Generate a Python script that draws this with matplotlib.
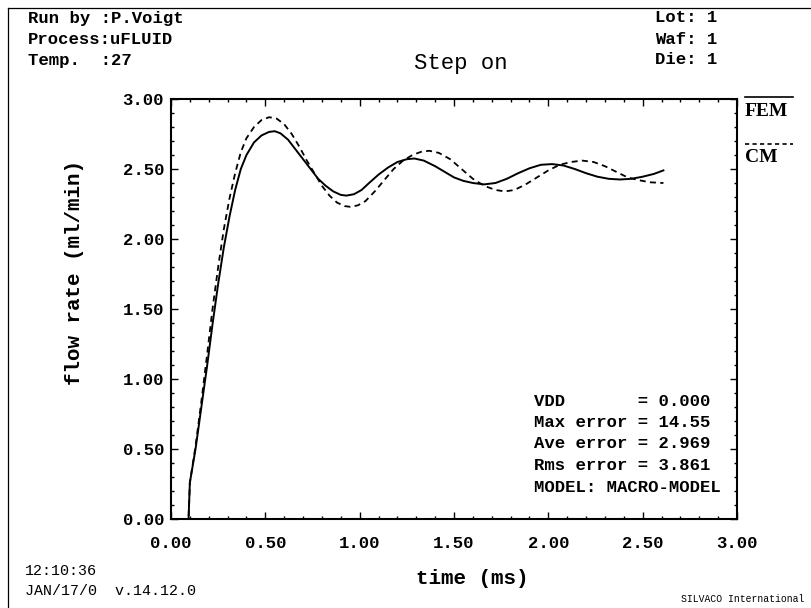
import numpy as np
import matplotlib.pyplot as plt
from matplotlib.ticker import MultipleLocator, FormatStrFormatter
from matplotlib.lines import Line2D

# Datos (tiempo en ms, caudal en ml/min)
t_fem = [0.0, 0.093, 0.10, 0.13, 0.16, 0.19, 0.22, 0.25, 0.28, 0.31, 0.34, 0.37,
         0.40, 0.44, 0.48, 0.52, 0.55, 0.58, 0.62, 0.66, 0.70, 0.74, 0.78, 0.82,
         0.86, 0.90, 0.93, 0.97, 1.01, 1.05, 1.10, 1.15, 1.20, 1.25, 1.29, 1.34,
         1.40, 1.45, 1.50, 1.55, 1.60, 1.66, 1.72, 1.78, 1.84, 1.90, 1.96, 2.02,
         2.08, 2.14, 2.20, 2.26, 2.32, 2.38, 2.44, 2.50, 2.56, 2.61]
q_fem = [0.0, 0.0, 0.26, 0.50, 0.79, 1.08, 1.39, 1.68, 1.94, 2.16, 2.35, 2.50,
         2.60, 2.69, 2.74, 2.765, 2.77, 2.755, 2.71, 2.64, 2.57, 2.50, 2.43, 2.38,
         2.34, 2.315, 2.31, 2.32, 2.35, 2.40, 2.46, 2.51, 2.55, 2.57, 2.575, 2.56,
         2.52, 2.48, 2.44, 2.415, 2.40, 2.39, 2.40, 2.43, 2.47, 2.505, 2.53, 2.535,
         2.525, 2.50, 2.47, 2.445, 2.43, 2.425, 2.43, 2.445, 2.465, 2.49]

t_cm = [0.0, 0.093, 0.10, 0.13, 0.16, 0.19, 0.22, 0.25, 0.28, 0.31, 0.34, 0.37,
        0.40, 0.44, 0.48, 0.52, 0.56, 0.60, 0.64, 0.68, 0.72, 0.76, 0.80, 0.84,
        0.88, 0.92, 0.95, 0.99, 1.03, 1.08, 1.13, 1.18, 1.23, 1.28, 1.33, 1.37,
        1.42, 1.48, 1.54, 1.60, 1.66, 1.72, 1.77, 1.82, 1.88, 1.94, 2.00, 2.06,
        2.12, 2.18, 2.24, 2.30, 2.36, 2.42, 2.48, 2.54, 2.61]
q_cm = [0.0, 0.0, 0.26, 0.52, 0.83, 1.16, 1.50, 1.80, 2.07, 2.29, 2.47, 2.62,
        2.72, 2.80, 2.85, 2.87, 2.86, 2.82, 2.75, 2.66, 2.56, 2.47, 2.38, 2.31,
        2.26, 2.235, 2.23, 2.24, 2.27, 2.34, 2.42, 2.50, 2.56, 2.60, 2.625, 2.63,
        2.615, 2.57, 2.50, 2.43, 2.38, 2.35, 2.34, 2.35, 2.39, 2.44, 2.49, 2.53,
        2.55, 2.56, 2.55, 2.52, 2.48, 2.44, 2.42, 2.405, 2.40]

header_left = ["Run by :P.Voigt", "Process:uFLUID", "Temp.  :27"]
header_right = ["Lot: 1", "Waf: 1", "Die: 1"]
stats = ["VDD       = 0.000", "Max error = 14.55", "Ave error = 2.969",
         "Rms error = 3.861", "MODEL: MACRO-MODEL"]

W, H = 811, 608
mono = 'Liberation Mono'

def fx(x):
    return x / W

def fy(y):
    return 1 - y / H

fig = plt.figure(figsize=(W / 100, H / 100), dpi=100)

# marco de la hoja (solo izquierda y arriba)
fig.add_artist(Line2D([fx(8), fx(8)], [0, fy(8)], color='k', lw=0.9))
fig.add_artist(Line2D([fx(8), 1], [fy(8), fy(8)], color='k', lw=0.9))

ax = fig.add_axes([fx(171), fy(519), fx(737) - fx(171), fy(99) - fy(519)])
ax.plot(t_fem, q_fem, color='k', lw=1.4)
ax.plot(t_cm, q_cm, color='k', lw=1.3, linestyle=(0, (3.3, 2.4)))

ax.set_xlim(0, 3)
ax.set_ylim(0, 3)
ax.xaxis.set_major_locator(MultipleLocator(0.5))
ax.xaxis.set_minor_locator(MultipleLocator(0.1))
ax.yaxis.set_major_locator(MultipleLocator(0.5))
ax.yaxis.set_minor_locator(MultipleLocator(0.1))
ax.xaxis.set_major_formatter(FormatStrFormatter('%.2f'))
ax.yaxis.set_major_formatter(FormatStrFormatter('%.2f'))
ax.tick_params(which='both', direction='in', top=True, right=True, width=1.0)
ax.tick_params(which='major', length=5)
ax.tick_params(which='minor', length=2.2)
ax.tick_params(axis='x', which='major', pad=12)
ax.tick_params(axis='y', which='major', pad=5)
for lab in ax.get_xticklabels() + ax.get_yticklabels():
    lab.set_fontfamily(mono)
    lab.set_fontweight('bold')
    lab.set_fontsize(12.4)
for sp in ax.spines.values():
    sp.set_linewidth(1.5)

# textos
for i, s in enumerate(header_left):
    fig.text(fx(28), fy(18 + 21 * i), s, family=mono, weight='bold',
             fontsize=12.4, va='center', ha='left')
for i, s in enumerate(header_right):
    fig.text(fx(655), fy(18 + 21 * i), s, family=mono, weight='bold',
             fontsize=12.4, va='center', ha='left')
fig.text(fx(461), fy(64), "Step on", family=mono, fontsize=16,
         va='center', ha='center')

fig.text(fx(472), fy(578), "time (ms)", family=mono, weight='bold',
         fontsize=15, va='center', ha='center')
fig.text(fx(75), fy(272), "flow rate (ml/min)", family=mono, weight='bold',
         fontsize=15, va='center', ha='center', rotation=90)

for i, s in enumerate(stats):
    fig.text(fx(534), fy(401 + 21.5 * i), s, family=mono, weight='bold',
             fontsize=12.4, va='center', ha='left')

fig.text(fx(25), fy(571), "12:10:36", family=mono, fontsize=10.8,
         va='center', ha='left')
fig.text(fx(25), fy(591), "JAN/17/0  v.14.12.0", family=mono, fontsize=10.8,
         va='center', ha='left')
fig.text(fx(804), fy(599), "SILVACO International", family=mono, fontsize=7,
         va='center', ha='right')

# leyenda a la derecha
fig.add_artist(Line2D([fx(745), fx(793)], [fy(97), fy(97)], color='k', lw=1.2))
fig.text(fx(745), fy(112), "FEM", family='Liberation Serif', weight='bold',
         fontsize=14, va='center', ha='left')
fig.add_artist(Line2D([fx(745), fx(793)], [fy(144), fy(144)], color='k', lw=1.2,
                      linestyle=(0, (2.5, 2.0))))
fig.text(fx(745), fy(157), "CM", family='Liberation Serif', weight='bold',
         fontsize=14, va='center', ha='left')

fig.savefig('out.png', dpi=100)
